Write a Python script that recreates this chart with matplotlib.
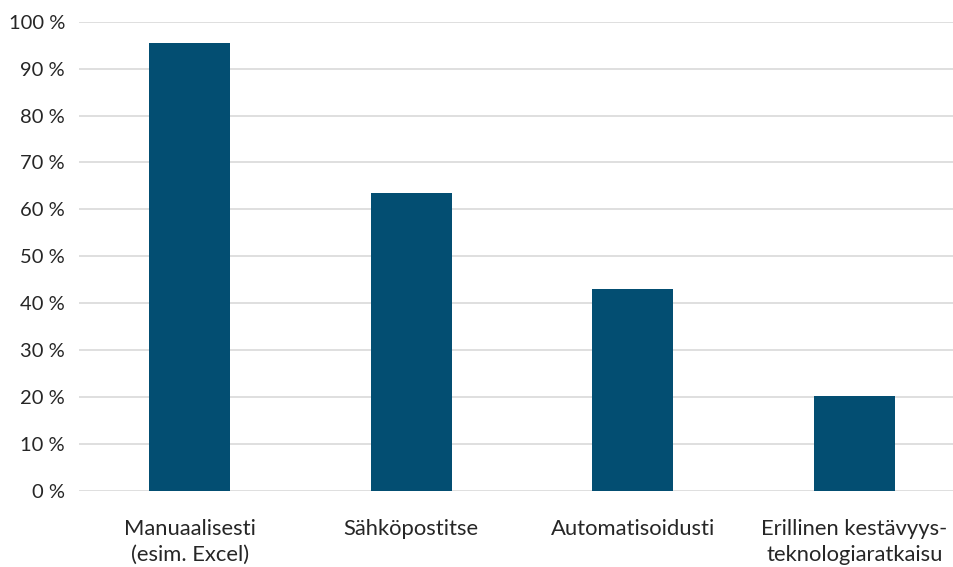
import matplotlib
matplotlib.use("Agg")
import matplotlib.pyplot as plt
from matplotlib.ticker import FuncFormatter

plt.rcParams["font.family"] = ["Lato", "DejaVu Sans"]

categories = ["Manuaalisesti\n(esim. Excel)", "Sähköpostitse", "Automatisoidusti",
              "Erillinen kestävyys-\nteknologiaratkaisu"]
values = [95.5, 63.5, 43.1, 20.3]
y_ticks = [0, 10, 20, 30, 40, 50, 60, 70, 80, 90, 100]

fig = plt.figure(figsize=(9.54, 5.67), dpi=100)
ax = fig.add_axes([79 / 954, 1 - 491 / 567, 875 / 954, (491 - 21.7) / 567])

x = list(range(len(categories)))
ax.bar(x, values, width=0.366, color="#034e72", zorder=3)

ax.set_ylim(0, 100)
ax.set_xlim(-0.5, 3.45)
ax.set_yticks(y_ticks)
ax.yaxis.set_major_formatter(FuncFormatter(lambda v, p: f"{int(v)} %"))
ax.set_xticks(x)
ax.set_xticklabels(categories, fontsize=15.8, color="#262626", linespacing=1.38)
ax.tick_params(axis="y", length=0, pad=10, labelsize=14.5, labelcolor="#262626")
ax.tick_params(axis="x", length=0, pad=20)
ax.grid(axis="y", color="#d9d9d9", linewidth=1.2, zorder=0)
for s in ax.spines.values():
    s.set_visible(False)

fig.savefig("out.png", dpi=100)
